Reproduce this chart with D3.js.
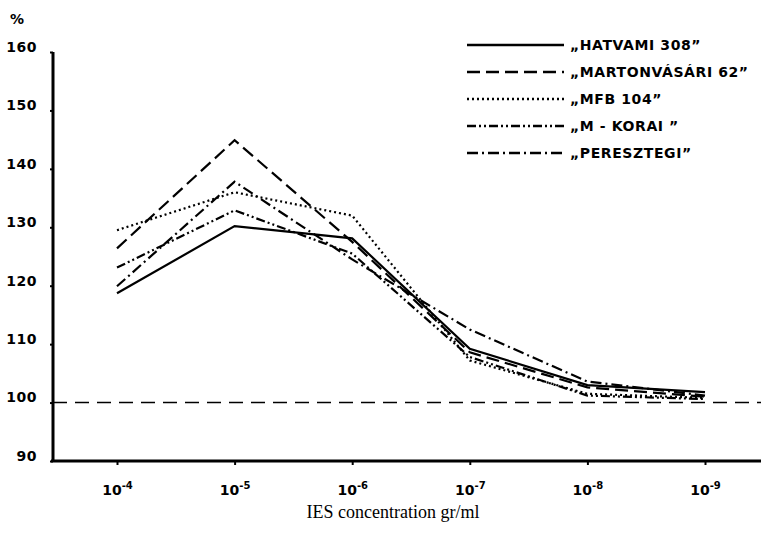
<!DOCTYPE html>
<html>
<head>
<meta charset="utf-8">
<script src="https://cdn.jsdelivr.net/npm/d3@7"></script>
<style>
  body { margin: 0; background: #fff; }
  svg { display: block; }
  .tick text { font-family: "DejaVu Sans", sans-serif; font-weight: bold; }
</style>
</head>
<body>
<svg id="chart"></svg>
<script>
// concentration exponents (10^-n gr/ml)
var exponents = [4, 5, 6, 7, 8, 9];
var yTicks = [90, 100, 110, 120, 130, 140, 150, 160];

var hatvami = [118.7, 130.2, 128.1, 109.2, 103.0, 101.8];
var martonvasari = [126.4, 144.9, 127.5, 108.6, 102.6, 101.0];
var mfb = [129.5, 136.0, 132.0, 107.2, 101.5, 100.8];
var mKorai = [123.1, 132.9, 125.5, 107.8, 101.2, 100.6];
var peresztegi = [119.9, 137.8, 124.5, 112.5, 103.6, 101.2];

var seriesNames = ["\u201EHATVAMI 308\u201D", "\u201EMARTONV\u00C1S\u00C1RI 62\u201D", "\u201EMFB  104\u201D", "\u201EM - KORAI \u201D", "\u201EPERESZTEGI\u201D"];
var seriesValues = [hatvami, martonvasari, mfb, mKorai, peresztegi];
var seriesDash = ["none", "13,6", "2,3", "9,3,2,3,2,3", "11,4,2,4"];

var width = 761, height = 548;
var svg = d3.select("#chart").attr("width", width).attr("height", height);

var x = d3.scalePoint()
  .domain(exponents)
  .range([117, 705]);

var y = d3.scaleLinear()
  .domain([90, 160])
  .range([461, 52]);

var axisX = 53;

// reference line at 100 %
svg.append("line")
  .attr("x1", axisX).attr("x2", width)
  .attr("y1", y(100)).attr("y2", y(100))
  .attr("stroke", "#000")
  .attr("stroke-width", 1.4)
  .attr("stroke-dasharray", "14,8");

// y axis
var gy = svg.append("g")
  .attr("transform", "translate(" + axisX + ",0)")
  .call(d3.axisLeft(y).tickValues(yTicks).tickSize(3).tickPadding(13));
gy.select(".domain").attr("stroke-width", 3).attr("d", "M0," + y(160) + "V" + y(90));
gy.selectAll(".tick line").attr("stroke-width", 2);
gy.selectAll(".tick text").attr("font-size", 14).attr("dy", "-0.05em").attr("letter-spacing", 0.5);

// x axis
var gx = svg.append("g")
  .attr("transform", "translate(0," + y(90) + ")")
  .call(d3.axisBottom(x).tickSize(4).tickPadding(20).tickFormat(""));
gx.select(".domain").attr("stroke-width", 3).attr("d", "M" + (axisX - 2) + ",0H" + width);
gx.selectAll(".tick line").attr("stroke-width", 2);
gx.selectAll(".tick text")
  .attr("font-size", 14)
  .each(function(d) {
    var t = d3.select(this);
    t.append("tspan").text("10");
    t.append("tspan").attr("font-size", 10).attr("dy", "-0.6em").text("-" + d);
  });

// "%" label
svg.append("text")
  .attr("x", 10).attr("y", 24)
  .attr("font-family", "DejaVu Sans, sans-serif")
  .attr("font-weight", "bold")
  .attr("font-size", 14)
  .text("%");

// x axis title
svg.append("text")
  .attr("x", 393).attr("y", 518)
  .attr("text-anchor", "middle")
  .attr("font-family", "Liberation Serif, DejaVu Serif, serif")
  .attr("font-size", 18)
  .text("IES concentration gr/ml");

// series lines
var line = d3.line()
  .x(function(d, i) { return x(exponents[i]); })
  .y(function(d) { return y(d); });

svg.append("g")
  .selectAll("path")
  .data(seriesValues)
  .join("path")
  .attr("d", line)
  .attr("fill", "none")
  .attr("stroke", "#000")
  .attr("stroke-width", 2.2)
  .attr("stroke-dasharray", function(d, i) { return seriesDash[i]; });

// legend
var legend = svg.append("g")
  .selectAll("g")
  .data(seriesNames)
  .join("g")
  .attr("transform", function(d, i) { return "translate(467," + (45 + i * 27) + ")"; });

legend.append("line")
  .attr("x1", 0).attr("x2", 97)
  .attr("stroke", "#000")
  .attr("stroke-width", 2.6)
  .attr("stroke-dasharray", function(d, i) { return seriesDash[i]; });

legend.append("text")
  .attr("x", 103).attr("y", 5)
  .attr("font-family", "DejaVu Sans, sans-serif")
  .attr("font-weight", "bold")
  .attr("font-size", 14)
  .attr("letter-spacing", 0.6)
  .text(function(d) { return d; });
</script>
</body>
</html>
